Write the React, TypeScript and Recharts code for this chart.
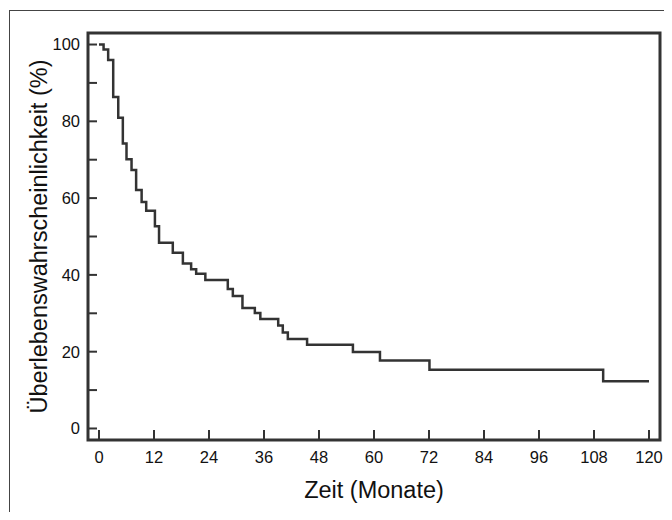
import React from 'react';
import { LineChart, Line, XAxis, YAxis, ReferenceArea } from 'recharts';

// Kaplan-Meier Schätzung
const months = [0, 1.0, 2.0, 3.1, 4.2, 5.2, 6.0, 7.1, 8.1, 9.3, 10.3, 12.2, 13.1, 16.1, 18.3, 20.1, 21.2, 23.2, 28.1, 29.2, 31.3, 34.0, 35.2, 39.1, 40.1, 41.2, 45.4, 55.4, 61.3, 72.1, 110.0, 120];
const survival = [100, 98.7, 96.0, 86.3, 80.9, 74.2, 70.1, 67.3, 62.1, 59.0, 56.7, 52.7, 48.4, 45.8, 43.0, 41.5, 40.3, 38.7, 36.3, 34.5, 31.4, 30.1, 28.5, 26.8, 25.0, 23.3, 21.8, 19.9, 17.7, 15.3, 12.3, 12.3];
const xTicks = [0, 12, 24, 36, 48, 60, 72, 84, 96, 108, 120];
const yTicks = [0, 10, 20, 30, 40, 50, 60, 70, 80, 90, 100];

const FONT = '"Liberation Sans", Arial, Helvetica, sans-serif';
const INK = '#333';

const XTick = (props: any) => {
  const { x, y, payload } = props;
  return (
    <g>
      <line x1={x} y1={y} x2={x} y2={y - 10} stroke={INK} strokeWidth={2} />
      <text x={x} y={y + 23} textAnchor="middle" fontSize={16.5} fill="#111" fontFamily={FONT}>
        {payload.value}
      </text>
    </g>
  );
};

const YTick = (props: any) => {
  const { x, y, payload } = props;
  return (
    <g>
      <line x1={x} y1={y} x2={x + 9} y2={y} stroke={INK} strokeWidth={2} />
      {payload.value % 20 === 0 && (
        <text x={x - 8} y={y} dy="0.355em" textAnchor="end" fontSize={16.5} fill="#111" fontFamily={FONT}>
          {payload.value}
        </text>
      )}
    </g>
  );
};

const App: React.FC = () => {
  const data = months.map((t, i) => ({ t, s: survival[i] }));

  return (
    <div style={{ position: 'relative', width: 664, height: 504 }}>
      <div
        style={{
          position: 'absolute',
          left: 1,
          top: 2,
          width: 661,
          height: 508,
          border: '1px solid #444',
          pointerEvents: 'none',
        }}
      />
      <LineChart width={664} height={504} data={data} margin={{ top: 25, right: 12, left: 0, bottom: 0 }}>
        <XAxis
          dataKey="t"
          type="number"
          domain={[-2.4, 122.4]}
          ticks={xTicks}
          tick={<XTick />}
          tickSize={0}
          tickMargin={0}
          tickLine={false}
          axisLine={false}
          height={72}
          interval={0}
          label={(p: any) => {
            const vb = p.viewBox;
            return (
              <text x={vb.x + vb.width / 2} y={vb.y + 58} textAnchor="middle" fontSize={23.5} fill="#111" fontFamily={FONT}>
                Zeit (Monate)
              </text>
            );
          }}
        />
        <YAxis
          type="number"
          domain={[-3, 103]}
          ticks={yTicks}
          tick={<YTick />}
          tickSize={0}
          tickMargin={0}
          tickLine={false}
          axisLine={false}
          width={80}
          interval={0}
          label={(p: any) => {
            const vb = p.viewBox;
            const cx = vb.x + 31;
            const cy = vb.y + vb.height / 2;
            return (
              <text
                x={cx}
                y={cy}
                dy="0.35em"
                textAnchor="middle"
                transform={`rotate(-90 ${cx} ${cy})`}
                fontSize={23.5}
                fill="#111"
                fontFamily={FONT}
              >
                Überlebenswahrscheinlichkeit (%)
              </text>
            );
          }}
        />
        <ReferenceArea x1={-2.4} x2={122.4} y1={-3} y2={103} fill="none" stroke={INK} strokeWidth={3} ifOverflow="visible" />
        <Line
          dataKey="s"
          type="stepAfter"
          stroke={INK}
          strokeWidth={2.5}
          dot={false}
          activeDot={false}
          isAnimationActive={false}
        />
      </LineChart>
    </div>
  );
};

export default App;
